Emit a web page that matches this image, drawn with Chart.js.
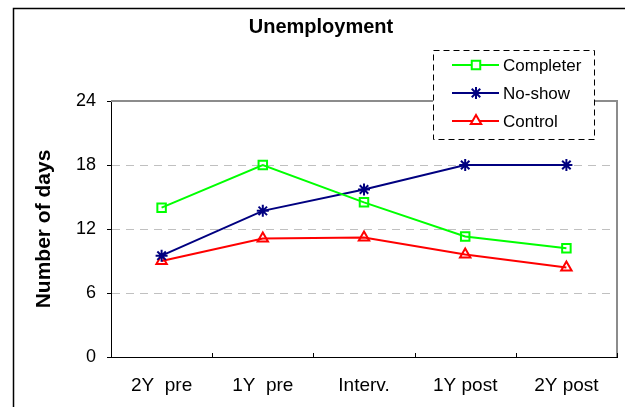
<!DOCTYPE html>
<html><head><meta charset="utf-8">
<script src="https://cdn.jsdelivr.net/npm/chart.js@4/dist/chart.umd.min.js"></script>
<style>html,body{margin:0;padding:0;background:#fff}</style>
</head><body>
<canvas id="c" width="625" height="407" style="width:625px;height:407px;display:block"></canvas>
<script>
const categories = ['2Y  pre', '1Y  pre', 'Interv.', '1Y post', '2Y post'];
const completer = [14, 18, 14.5, 11.3, 10.2];
const noShow = [9.5, 13.7, 15.7, 18, 18];
const control = [9.0, 11.1, 11.2, 9.6, 8.4];
const yTicks = [0, 6, 12, 18, 24];
const seriesNames = ['Completer', 'No-show', 'Control'];
const chartTitle = 'Unemployment';
const yTitle = 'Number of days';

const FONT = "'Liberation Sans', Arial, sans-serif";

function drawMarker(ctx, style, r, x, y, color) {
  ctx.save();
  ctx.strokeStyle = color; ctx.lineWidth = 2; ctx.fillStyle = '#fff';
  ctx.beginPath();
  if (style === 'rect') {
    const s = Math.SQRT1_2 * r;
    ctx.rect(x - s, y - s, 2 * s, 2 * s); ctx.fill(); ctx.stroke();
  } else if (style === 'triangle') {
    for (let i = 0; i < 3; i++) {
      const a = -Math.PI / 2 + i * 2 * Math.PI / 3;
      const px = x + Math.cos(a) * r, py = y + Math.sin(a) * r;
      i ? ctx.lineTo(px, py) : ctx.moveTo(px, py);
    }
    ctx.closePath(); ctx.fill(); ctx.stroke();
  } else {
    for (let i = 0; i < 4; i++) {
      const a = i * Math.PI / 4;
      ctx.moveTo(x - Math.cos(a) * r, y - Math.sin(a) * r);
      ctx.lineTo(x + Math.cos(a) * r, y + Math.sin(a) * r);
    }
    ctx.stroke();
  }
  ctx.restore();
}

const framePlugin = {
  id: 'frame',
  beforeDraw(chart) {
    const ctx = chart.ctx;
    ctx.save();
    ctx.fillStyle = '#fff';
    ctx.fillRect(0, 0, chart.width, chart.height);
    ctx.strokeStyle = '#000'; ctx.lineWidth = 1.5;
    ctx.strokeRect(13.5, 8.5, chart.width + 50, chart.height + 50);
    ctx.fillStyle = '#000';
    ctx.font = 'bold 20px ' + FONT;
    ctx.textAlign = 'center'; ctx.textBaseline = 'alphabetic';
    ctx.fillText(chartTitle, 321, 33);
    ctx.restore();
  },
  beforeDatasetsDraw(chart) {
    const ctx = chart.ctx, a = chart.chartArea;
    const xs = chart.scales.x;
    ctx.save();
    ctx.strokeStyle = '#8c8c8c'; ctx.lineWidth = 2;
    ctx.beginPath();
    ctx.moveTo(a.left, a.top); ctx.lineTo(a.right, a.top); ctx.lineTo(a.right, a.bottom);
    ctx.stroke();
    ctx.strokeStyle = '#000'; ctx.lineWidth = 1;
    ctx.beginPath();
    for (let i = 0; i <= categories.length; i++) {
      const px = Math.round(xs.getPixelForValue(i - 0.5)) + 0.5;
      ctx.moveTo(px, a.bottom); ctx.lineTo(px, a.bottom - 4);
    }
    ctx.stroke();
    ctx.restore();
  },
  afterDraw(chart) {
    const ctx = chart.ctx;
    const bx = 433, by = 50, bw = 161, bh = 89;
    ctx.save();
    ctx.fillStyle = '#fff';
    ctx.fillRect(bx, by, bw, bh);
    ctx.strokeStyle = '#000'; ctx.lineWidth = 1; ctx.setLineDash([6, 4]);
    ctx.strokeRect(bx + 0.5, by + 0.5, bw, bh);
    ctx.setLineDash([]);
    chart.data.datasets.forEach((ds, i) => {
      const y = by + 15 + i * 28;
      ctx.strokeStyle = ds.borderColor; ctx.lineWidth = 2;
      ctx.beginPath(); ctx.moveTo(452, y); ctx.lineTo(499, y); ctx.stroke();
      drawMarker(ctx, ds.pointStyle, ds.pointRadius, 476, y, ds.borderColor);
      ctx.fillStyle = '#000';
      ctx.font = '17px ' + FONT;
      ctx.textBaseline = 'middle'; ctx.textAlign = 'left';
      ctx.fillText(ds.label, 503, y + 1);
    });
    ctx.restore();
  }
};

const mk = (label, data, color, style, r) => ({
  label, data, borderColor: color, backgroundColor: '#fff',
  borderWidth: 2, pointStyle: style, pointRadius: r, pointHoverRadius: r,
  pointBorderColor: color, pointBackgroundColor: 'rgba(255,255,255,0)', pointBorderWidth: 2,
  tension: 0, fill: false
});

new Chart(document.getElementById('c'), {
  type: 'line',
  data: {
    labels: categories,
    datasets: [
      mk(seriesNames[0], completer, '#00ff00', 'rect', 6),
      mk(seriesNames[1], noShow, '#000080', 'star', 6),
      mk(seriesNames[2], control, '#ff0000', 'triangle', 6)
    ]
  },
  options: {
    responsive: false,
    devicePixelRatio: 1,
    animation: false,
    layout: { padding: { left: 0, right: 7, top: 101, bottom: 0 } },
    plugins: {
      legend: { display: false },
      tooltip: { enabled: false },
      title: { display: false }
    },
    scales: {
      x: {
        offset: true,
        grid: { display: true, drawOnChartArea: false, drawTicks: false, color: '#000', offset: true },
        border: { display: true, color: '#000', width: 1 },
        ticks: { color: '#000', font: { family: FONT, size: 19 }, padding: 17, maxRotation: 0, autoSkip: false },
        afterFit(s) { s.height = 50; }
      },
      y: {
        min: yTicks[0], max: yTicks[yTicks.length - 1],
        afterBuildTicks(s) { s.ticks = yTicks.map(v => ({ value: v })); },
        grid: {
          color: c => (c.tick && (c.tick.value === 0 || c.tick.value === 24)) ? 'rgba(0,0,0,0)' : '#c0c0c0',
          lineWidth: 1, tickLength: 4, tickColor: '#000', drawTicks: true,
          tickBorderDash: []
        },
        border: { display: true, color: '#000', width: 1, dash: [8, 6] },
        ticks: { color: '#000', font: { family: FONT, size: 18 }, padding: 11 },
        title: {
          display: true, text: yTitle, color: '#000',
          font: { family: FONT, size: 21, weight: 'bold' },
          padding: { top: 32, bottom: 0 }
        },
        afterFit(s) { s.width = 111; }
      }
    }
  },
  plugins: [framePlugin]
});
</script>
</body></html>
